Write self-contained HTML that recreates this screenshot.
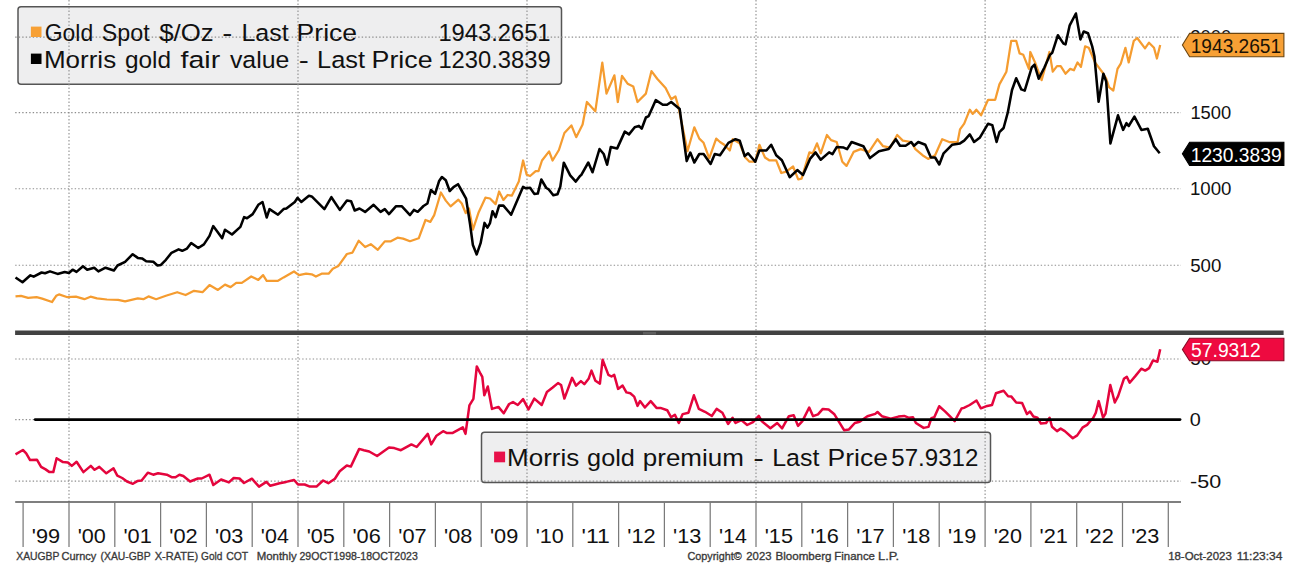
<!DOCTYPE html>
<html><head><meta charset="utf-8"><style>
html,body{margin:0;padding:0;background:#fff;width:1289px;height:569px;overflow:hidden}
svg{display:block;font-family:"Liberation Sans", sans-serif}
</style></head><body>
<svg width="1289" height="569" viewBox="0 0 1289 569">
<rect x="18" y="6.8" width="543.5" height="77.4" rx="3" ry="3" fill="#eeeeef" stroke="#555" stroke-width="1.5"/>
<rect x="481.5" y="432.2" width="509" height="50.2" rx="3" ry="3" fill="#eeeeef" stroke="#555" stroke-width="1.5"/>
<line x1="15.2" y1="37.1" x2="1181" y2="37.1" stroke="#8e8e8e" stroke-width="1.1" stroke-dasharray="1.4 2.1"/>
<line x1="15.2" y1="112.6" x2="1181" y2="112.6" stroke="#8e8e8e" stroke-width="1.1" stroke-dasharray="1.4 2.1"/>
<line x1="15.2" y1="188.8" x2="1181" y2="188.8" stroke="#8e8e8e" stroke-width="1.1" stroke-dasharray="1.4 2.1"/>
<line x1="15.2" y1="265.3" x2="1181" y2="265.3" stroke="#8e8e8e" stroke-width="1.1" stroke-dasharray="1.4 2.1"/>
<line x1="15.2" y1="359" x2="1181" y2="359" stroke="#8e8e8e" stroke-width="1.1" stroke-dasharray="1.4 2.1"/>
<line x1="15.2" y1="419.6" x2="1181" y2="419.6" stroke="#8e8e8e" stroke-width="1.1" stroke-dasharray="1.4 2.1"/>
<line x1="15.2" y1="481.1" x2="1181" y2="481.1" stroke="#8e8e8e" stroke-width="1.1" stroke-dasharray="1.4 2.1"/>
<line x1="69.0" y1="0" x2="69.0" y2="502" stroke="#8e8e8e" stroke-width="1.1" stroke-dasharray="1.4 2.1"/>
<line x1="298.0" y1="0" x2="298.0" y2="502" stroke="#8e8e8e" stroke-width="1.1" stroke-dasharray="1.4 2.1"/>
<line x1="527.0" y1="0" x2="527.0" y2="502" stroke="#8e8e8e" stroke-width="1.1" stroke-dasharray="1.4 2.1"/>
<line x1="756.0" y1="0" x2="756.0" y2="502" stroke="#8e8e8e" stroke-width="1.1" stroke-dasharray="1.4 2.1"/>
<line x1="985.1" y1="0" x2="985.1" y2="502" stroke="#8e8e8e" stroke-width="1.1" stroke-dasharray="1.4 2.1"/>
<path d="M15.5,296.4 L21.0,295.8 L28.1,297.8 L36.6,297.2 L42.2,298.6 L52.0,302.0 L56.2,295.8 L59.0,294.4 L67.5,297.2 L75.9,296.7 L84.4,299.2 L90.5,296.7 L97.0,298.4 L106.9,299.5 L118.1,299.8 L125.1,301.4 L137.8,298.4 L143.4,299.2 L148.5,296.4 L156.1,299.2 L165.9,295.8 L177.2,292.2 L185.6,295.0 L194.0,290.8 L202.5,292.2 L209.5,285.1 L217.9,289.9 L225.0,284.6 L230.6,287.1 L236.2,282.9 L241.8,282.9 L251.2,276.5 L258.3,279.9 L263.1,275.1 L266.7,280.8 L278.0,280.8 L283.6,277.4 L294.0,271.5 L299.0,275.1 L306.1,273.7 L311.7,274.3 L315.9,276.5 L321.6,273.7 L328.6,273.7 L332.8,268.7 L338.4,265.9 L346.9,254.0 L352.5,252.6 L358.7,240.8 L365.1,247.0 L370.8,244.2 L377.8,249.8 L384.8,241.4 L390.4,241.4 L397.5,237.7 L403.1,238.6 L410.0,241.2 L418.7,238.3 L425.5,220.0 L430.3,221.9 L434.2,215.1 L440.9,192.5 L445.8,200.6 L450.6,206.4 L458.4,199.7 L461.8,203.5 L465.7,213.2 L469.0,208.4 L472.9,229.6 L478.7,212.2 L485.4,197.7 L490.0,198.5 L495.6,204.1 L499.1,191.5 L503.4,199.9 L507.6,195.0 L511.8,195.7 L516.0,187.3 L518.8,181.6 L523.1,160.5 L526.6,174.6 L530.1,176.0 L535.7,171.1 L538.5,171.1 L542.0,160.5 L549.1,151.4 L552.6,160.5 L558.9,150.0 L564.4,133.0 L571.4,125.4 L576.2,137.2 L582.6,124.5 L586.9,102.0 L595.3,111.3 L602.3,62.7 L606.5,93.6 L614.4,75.3 L617.8,102.0 L622.0,75.9 L627.6,83.7 L633.3,86.6 L637.5,102.0 L645.9,93.6 L651.5,71.1 L657.2,78.7 L665.6,88.0 L671.2,99.2 L675.4,96.4 L678.3,106.2 L687.5,151.2 L694.3,127.3 L699.3,138.6 L703.6,142.8 L709.2,158.3 L716.2,138.6 L720.0,142.0 L724.2,144.8 L729.8,150.5 L732.7,139.2 L739.7,143.4 L745.3,157.5 L749.5,161.7 L755.2,161.7 L759.4,144.8 L765.0,157.5 L769.2,160.3 L776.2,160.3 L781.3,173.0 L786.1,171.6 L793.1,166.5 L798.2,179.4 L801.6,178.6 L809.4,152.4 L812.8,153.3 L817.0,143.4 L820.7,153.3 L826.9,135.0 L831.1,140.1 L836.7,142.0 L842.3,161.7 L846.5,165.9 L853.6,151.9 L860.6,149.1 L869.0,151.9 L877.5,139.2 L883.1,146.2 L890.1,147.6 L897.2,135.0 L902.8,140.6 L911.2,142.0 L915.4,149.1 L922.5,155.2 L928.1,158.9 L935.1,155.2 L942.2,139.2 L949.2,142.0 L957.6,142.0 L960.0,129.4 L964.2,123.7 L969.8,109.7 L972.7,113.9 L976.3,109.7 L981.1,115.3 L988.1,99.8 L995.2,99.8 L999.4,84.4 L1006.4,71.7 L1011.2,40.8 L1016.2,40.8 L1019.6,53.4 L1023.3,54.8 L1028.9,68.9 L1030.3,52.0 L1035.4,63.3 L1041.6,80.1 L1049.4,52.0 L1052.8,71.7 L1057.0,66.1 L1060.7,66.1 L1065.5,73.7 L1070.2,68.9 L1073.9,70.3 L1077.5,62.4 L1080.9,66.9 L1085.1,46.4 L1088.8,47.8 L1095.0,62.4 L1102.0,71.7 L1106.2,78.7 L1109.0,87.2 L1113.3,90.6 L1117.5,68.9 L1120.9,63.3 L1125.4,47.8 L1128.7,62.4 L1133.8,40.8 L1137.2,38.0 L1145.0,48.4 L1149.0,42.7 L1154.0,47.8 L1156.9,58.5 L1160.2,45.0" fill="none" stroke="#f59c30" stroke-width="2.25" stroke-linejoin="round"/>
<path d="M15.5,277.5 L22.5,282.3 L30.4,275.3 L33.7,276.7 L41.6,272.5 L45.0,273.3 L50.0,271.4 L57.6,273.9 L64.7,272.0 L68.9,273.0 L72.6,269.7 L76.5,271.9 L83.0,266.3 L87.2,269.7 L94.2,267.7 L98.4,271.4 L105.5,267.7 L113.9,270.5 L117.5,265.5 L125.1,261.8 L132.7,254.2 L137.8,257.9 L142.0,258.4 L146.2,261.2 L153.3,261.8 L157.5,265.5 L160.9,264.9 L165.9,259.8 L171.5,252.8 L178.6,249.4 L182.2,250.8 L187.0,248.6 L191.2,243.0 L198.3,248.0 L203.9,244.4 L209.5,235.9 L213.2,226.1 L222.2,238.2 L225.0,229.7 L232.0,234.5 L240.4,226.9 L244.1,217.1 L247.0,218.3 L252.7,214.1 L258.3,204.8 L262.5,202.0 L266.7,217.5 L269.5,209.1 L278.0,214.7 L283.6,209.1 L286.4,208.5 L294.8,202.0 L297.6,197.8 L301.3,202.0 L308.9,195.8 L311.7,196.4 L324.4,209.1 L331.4,197.2 L339.8,209.9 L346.9,200.6 L351.1,201.2 L354.7,210.5 L359.5,208.5 L365.1,211.9 L373.6,204.8 L380.6,211.9 L384.8,209.1 L389.0,214.1 L396.1,206.2 L401.7,206.2 L410.0,215.1 L413.9,209.9 L417.7,211.8 L423.5,206.0 L427.4,203.5 L430.9,190.0 L435.1,193.8 L439.0,181.3 L441.9,177.0 L445.8,180.3 L449.7,191.0 L453.5,187.1 L458.0,184.2 L461.3,190.0 L466.1,198.7 L470.0,223.8 L472.9,245.1 L476.7,254.4 L480.6,243.2 L484.5,222.9 L487.4,227.7 L490.0,223.1 L492.5,211.2 L495.6,217.2 L499.1,205.6 L503.4,205.6 L511.1,214.7 L523.1,186.8 L525.9,188.3 L530.1,187.7 L534.3,193.9 L537.8,193.6 L541.3,179.5 L546.3,188.0 L548.8,189.4 L553.3,195.3 L557.5,194.3 L560.3,186.6 L563.8,162.7 L570.2,175.3 L575.8,181.6 L580.0,176.0 L581.2,175.1 L588.3,162.5 L592.5,172.3 L599.5,149.0 L603.7,154.0 L607.1,164.7 L610.8,147.0 L617.2,148.4 L624.8,131.6 L629.0,134.4 L634.7,127.3 L638.9,125.9 L641.7,128.7 L645.9,117.5 L648.7,116.1 L655.8,100.1 L662.8,104.8 L667.0,104.8 L671.2,102.0 L679.7,109.1 L686.7,161.1 L690.3,152.6 L694.3,162.5 L699.3,154.0 L703.6,154.0 L710.6,163.9 L714.8,154.0 L720.0,155.2 L728.4,142.9 L735.5,139.2 L739.7,140.6 L744.7,156.1 L748.1,153.3 L755.2,161.7 L759.4,150.5 L766.4,150.5 L771.2,144.8 L776.2,155.2 L781.9,160.3 L789.7,177.2 L797.3,170.1 L803.0,174.9 L810.0,158.9 L815.6,152.4 L820.7,159.7 L829.1,152.4 L832.5,154.1 L836.7,147.1 L843.7,147.6 L847.1,149.1 L851.6,142.0 L863.4,146.2 L869.9,158.1 L878.9,151.3 L888.7,149.1 L895.8,139.2 L900.0,145.7 L905.6,145.7 L911.2,142.0 L914.0,145.7 L918.3,142.0 L925.3,144.8 L930.9,157.5 L935.1,157.5 L939.3,164.5 L943.6,153.3 L952.0,144.8 L960.0,143.4 L964.2,140.6 L969.8,134.4 L974.1,142.0 L979.7,137.8 L988.1,123.7 L992.3,125.1 L996.6,142.0 L999.4,132.2 L1003.6,128.0 L1007.8,112.5 L1012.0,90.0 L1016.2,78.2 L1021.3,89.4 L1024.7,90.6 L1031.7,67.5 L1034.5,64.7 L1038.7,78.7 L1044.4,67.5 L1050.0,54.8 L1052.2,52.9 L1057.9,35.2 L1063.5,43.6 L1065.5,44.4 L1069.7,25.3 L1075.9,13.5 L1080.4,39.4 L1083.7,31.5 L1088.0,33.2 L1092.2,46.4 L1094.4,56.2 L1098.6,101.8 L1103.4,73.7 L1106.2,81.6 L1110.4,143.4 L1118.0,115.3 L1123.1,129.9 L1126.5,123.2 L1128.7,126.0 L1134.4,116.7 L1141.4,129.9 L1147.8,128.8 L1154.0,146.2 L1159.7,153.3" fill="none" stroke="#000" stroke-width="2.55" stroke-linejoin="round"/>
<path d="M15.5,454.3 L22.9,450.0 L26.2,453.3 L30.1,460.1 L36.9,459.7 L41.1,466.9 L45.6,469.4 L49.5,472.1 L53.3,472.1 L56.6,458.2 L63.0,462.1 L67.9,462.5 L71.8,465.9 L76.6,461.7 L83.4,472.1 L90.8,465.9 L94.6,469.8 L99.3,466.9 L106.3,473.3 L113.5,468.3 L117.3,475.6 L122.2,478.0 L127.0,481.5 L132.9,483.8 L137.3,481.1 L141.6,480.5 L147.8,472.7 L153.2,474.7 L158.1,473.3 L166.8,474.7 L171.6,477.2 L175.5,477.2 L179.4,474.7 L183.3,476.0 L190.1,481.5 L197.8,478.5 L201.7,478.5 L209.5,474.7 L213.3,485.0 L221.1,479.5 L228.9,482.4 L233.7,478.0 L239.5,478.5 L244.0,483.0 L251.9,478.7 L259.0,486.6 L266.4,481.9 L270.3,485.8 L279.6,483.2 L286.1,481.9 L294.1,480.0 L298.0,484.5 L304.6,484.5 L309.9,486.6 L316.5,486.6 L323.1,480.5 L328.3,483.2 L334.9,478.7 L339.7,471.3 L346.8,465.5 L350.8,466.6 L359.2,448.9 L363.9,450.2 L369.2,451.5 L377.1,456.0 L389.0,447.6 L394.3,448.1 L400.9,450.2 L411.4,444.4 L416.7,447.0 L427.8,433.9 L431.2,444.4 L436.5,435.7 L443.1,431.2 L447.0,433.1 L452.3,433.1 L462.8,427.3 L465.5,433.9 L469.4,405.4 L473.4,398.8 L476.8,366.4 L480.5,373.7 L482.3,376.9 L484.3,395.3 L487.8,386.5 L492.0,408.9 L498.4,406.9 L503.7,413.3 L509.1,404.0 L513.0,402.1 L517.8,405.0 L523.1,399.2 L528.5,409.4 L534.3,398.6 L541.7,405.0 L546.9,392.0 L552.7,387.5 L558.0,383.1 L561.1,385.0 L564.4,398.6 L572.1,377.8 L576.0,385.6 L580.9,381.1 L584.3,384.2 L588.6,378.8 L591.5,370.6 L595.4,380.7 L599.9,383.6 L602.6,359.8 L608.4,374.9 L611.5,376.5 L614.2,374.9 L618.1,388.9 L622.6,385.6 L626.4,392.4 L630.3,393.3 L634.2,396.6 L637.5,405.9 L640.0,401.1 L644.9,407.5 L650.7,401.1 L656.5,407.9 L660.4,407.9 L667.2,410.2 L671.0,417.2 L674.9,414.7 L678.8,423.0 L682.7,414.1 L688.5,412.7 L693.9,395.3 L698.8,408.9 L705.0,411.8 L711.8,416.0 L716.6,408.9 L722.4,412.7 L728.1,424.0 L732.6,417.8 L735.5,423.0 L741.3,420.1 L747.2,425.0 L753.0,422.1 L758.8,415.9 L761.7,421.1 L770.4,428.3 L777.2,423.0 L782.1,428.3 L788.9,416.2 L793.7,415.3 L798.0,425.9 L802.4,421.1 L809.2,407.5 L813.1,416.2 L818.0,414.3 L822.8,408.9 L828.6,409.5 L834.4,414.3 L844.1,430.2 L849.0,429.4 L854.8,423.0 L859.6,421.7 L867.4,416.2 L875.2,413.9 L877.5,412.0 L881.9,416.2 L890.7,418.6 L898.4,416.6 L904.2,415.9 L909.1,417.8 L913.0,417.2 L915.9,423.0 L923.6,427.9 L928.5,426.9 L931.4,418.2 L934.3,417.2 L939.2,406.2 L945.0,411.4 L949.8,416.2 L954.7,421.1 L961.5,408.5 L963.9,407.9 L969.7,405.0 L976.5,400.5 L980.9,408.3 L987.2,405.9 L992.0,405.0 L995.9,393.3 L1003.6,390.8 L1008.1,396.2 L1011.4,396.6 L1016.2,402.5 L1022.1,403.0 L1026.9,414.1 L1030.0,411.5 L1033.4,416.5 L1037.4,417.7 L1040.9,423.6 L1046.1,423.0 L1049.6,417.7 L1052.0,426.7 L1057.0,431.1 L1060.7,428.6 L1064.8,431.1 L1072.8,438.2 L1077.2,435.4 L1082.8,427.3 L1087.1,424.9 L1092.0,419.0 L1092.9,418.5 L1095.8,412.7 L1098.7,401.1 L1103.1,417.6 L1105.5,413.7 L1110.3,385.0 L1114.8,402.5 L1118.1,396.2 L1123.9,378.8 L1126.8,376.8 L1129.7,382.7 L1135.5,375.9 L1141.3,368.7 L1145.2,370.6 L1149.1,368.1 L1153.0,360.4 L1157.4,361.7 L1160.2,349.3" fill="none" stroke="#e4053d" stroke-width="2.5" stroke-linejoin="round"/>
<line x1="35.2" y1="419.6" x2="1180" y2="419.6" stroke="#000" stroke-width="2.9" stroke-linecap="round"/>
<rect x="15.1" y="330.5" width="1268.5" height="4.5" fill="#424242"/>
<rect x="643" y="332" width="13" height="2.6" fill="#5e5e5e"/>
<line x1="15.2" y1="502" x2="1181" y2="502" stroke="#555" stroke-width="1.6"/>
<line x1="23.1" y1="502" x2="23.1" y2="547" stroke="#7a7a7a" stroke-width="1.25"/>
<line x1="69.0" y1="502" x2="69.0" y2="547" stroke="#7a7a7a" stroke-width="1.25"/>
<line x1="114.8" y1="502" x2="114.8" y2="547" stroke="#7a7a7a" stroke-width="1.25"/>
<line x1="160.6" y1="502" x2="160.6" y2="547" stroke="#7a7a7a" stroke-width="1.25"/>
<line x1="206.4" y1="502" x2="206.4" y2="547" stroke="#7a7a7a" stroke-width="1.25"/>
<line x1="252.2" y1="502" x2="252.2" y2="547" stroke="#7a7a7a" stroke-width="1.25"/>
<line x1="298.0" y1="502" x2="298.0" y2="547" stroke="#7a7a7a" stroke-width="1.25"/>
<line x1="343.8" y1="502" x2="343.8" y2="547" stroke="#7a7a7a" stroke-width="1.25"/>
<line x1="389.6" y1="502" x2="389.6" y2="547" stroke="#7a7a7a" stroke-width="1.25"/>
<line x1="435.4" y1="502" x2="435.4" y2="547" stroke="#7a7a7a" stroke-width="1.25"/>
<line x1="481.2" y1="502" x2="481.2" y2="547" stroke="#7a7a7a" stroke-width="1.25"/>
<line x1="527.0" y1="502" x2="527.0" y2="547" stroke="#7a7a7a" stroke-width="1.25"/>
<line x1="572.8" y1="502" x2="572.8" y2="547" stroke="#7a7a7a" stroke-width="1.25"/>
<line x1="618.6" y1="502" x2="618.6" y2="547" stroke="#7a7a7a" stroke-width="1.25"/>
<line x1="664.4" y1="502" x2="664.4" y2="547" stroke="#7a7a7a" stroke-width="1.25"/>
<line x1="710.2" y1="502" x2="710.2" y2="547" stroke="#7a7a7a" stroke-width="1.25"/>
<line x1="756.0" y1="502" x2="756.0" y2="547" stroke="#7a7a7a" stroke-width="1.25"/>
<line x1="801.8" y1="502" x2="801.8" y2="547" stroke="#7a7a7a" stroke-width="1.25"/>
<line x1="847.6" y1="502" x2="847.6" y2="547" stroke="#7a7a7a" stroke-width="1.25"/>
<line x1="893.4" y1="502" x2="893.4" y2="547" stroke="#7a7a7a" stroke-width="1.25"/>
<line x1="939.2" y1="502" x2="939.2" y2="547" stroke="#7a7a7a" stroke-width="1.25"/>
<line x1="985.1" y1="502" x2="985.1" y2="547" stroke="#7a7a7a" stroke-width="1.25"/>
<line x1="1030.9" y1="502" x2="1030.9" y2="547" stroke="#7a7a7a" stroke-width="1.25"/>
<line x1="1076.7" y1="502" x2="1076.7" y2="547" stroke="#7a7a7a" stroke-width="1.25"/>
<line x1="1122.5" y1="502" x2="1122.5" y2="547" stroke="#7a7a7a" stroke-width="1.25"/>
<line x1="1168.3" y1="502" x2="1168.3" y2="547" stroke="#7a7a7a" stroke-width="1.25"/>
<text x="31.85" y="542.6" font-size="20.6" fill="#111" textLength="28.33" lengthAdjust="spacingAndGlyphs">'99</text>
<text x="77.66" y="542.6" font-size="20.6" fill="#111" textLength="28.14" lengthAdjust="spacingAndGlyphs">'00</text>
<text x="123.46" y="542.6" font-size="20.6" fill="#111" textLength="28.37" lengthAdjust="spacingAndGlyphs">'01</text>
<text x="169.26" y="542.6" font-size="20.6" fill="#111" textLength="28.40" lengthAdjust="spacingAndGlyphs">'02</text>
<text x="215.07" y="542.6" font-size="20.6" fill="#111" textLength="28.25" lengthAdjust="spacingAndGlyphs">'03</text>
<text x="260.89" y="542.6" font-size="20.6" fill="#111" textLength="27.92" lengthAdjust="spacingAndGlyphs">'04</text>
<text x="306.68" y="542.6" font-size="20.6" fill="#111" textLength="28.21" lengthAdjust="spacingAndGlyphs">'05</text>
<text x="352.49" y="542.6" font-size="20.6" fill="#111" textLength="28.25" lengthAdjust="spacingAndGlyphs">'06</text>
<text x="398.29" y="542.6" font-size="20.6" fill="#111" textLength="28.40" lengthAdjust="spacingAndGlyphs">'07</text>
<text x="444.10" y="542.6" font-size="20.6" fill="#111" textLength="28.24" lengthAdjust="spacingAndGlyphs">'08</text>
<text x="489.90" y="542.6" font-size="20.6" fill="#111" textLength="28.33" lengthAdjust="spacingAndGlyphs">'09</text>
<text x="535.71" y="542.6" font-size="20.6" fill="#111" textLength="28.14" lengthAdjust="spacingAndGlyphs">'10</text>
<text x="581.51" y="542.6" font-size="20.6" fill="#111" textLength="28.37" lengthAdjust="spacingAndGlyphs">'11</text>
<text x="627.31" y="542.6" font-size="20.6" fill="#111" textLength="28.40" lengthAdjust="spacingAndGlyphs">'12</text>
<text x="673.12" y="542.6" font-size="20.6" fill="#111" textLength="28.25" lengthAdjust="spacingAndGlyphs">'13</text>
<text x="718.94" y="542.6" font-size="20.6" fill="#111" textLength="27.92" lengthAdjust="spacingAndGlyphs">'14</text>
<text x="764.73" y="542.6" font-size="20.6" fill="#111" textLength="28.21" lengthAdjust="spacingAndGlyphs">'15</text>
<text x="810.54" y="542.6" font-size="20.6" fill="#111" textLength="28.25" lengthAdjust="spacingAndGlyphs">'16</text>
<text x="856.34" y="542.6" font-size="20.6" fill="#111" textLength="28.40" lengthAdjust="spacingAndGlyphs">'17</text>
<text x="902.15" y="542.6" font-size="20.6" fill="#111" textLength="28.24" lengthAdjust="spacingAndGlyphs">'18</text>
<text x="947.95" y="542.6" font-size="20.6" fill="#111" textLength="28.33" lengthAdjust="spacingAndGlyphs">'19</text>
<text x="993.76" y="542.6" font-size="20.6" fill="#111" textLength="28.14" lengthAdjust="spacingAndGlyphs">'20</text>
<text x="1039.56" y="542.6" font-size="20.6" fill="#111" textLength="28.37" lengthAdjust="spacingAndGlyphs">'21</text>
<text x="1085.36" y="542.6" font-size="20.6" fill="#111" textLength="28.40" lengthAdjust="spacingAndGlyphs">'22</text>
<text x="1131.17" y="542.6" font-size="20.6" fill="#111" textLength="28.25" lengthAdjust="spacingAndGlyphs">'23</text>
<text x="1190.27" y="43.4" font-size="18.6" fill="#111" textLength="40.94" lengthAdjust="spacingAndGlyphs">2000</text>
<text x="1190.40" y="118.9" font-size="18.6" fill="#111" textLength="40.81" lengthAdjust="spacingAndGlyphs">1500</text>
<text x="1189.98" y="195.3" font-size="18.6" fill="#111" textLength="41.55" lengthAdjust="spacingAndGlyphs">1000</text>
<text x="1190.15" y="271.6" font-size="18.6" fill="#111" textLength="31.18" lengthAdjust="spacingAndGlyphs">500</text>
<text x="1190.24" y="365.4" font-size="18.6" fill="#111" textLength="20.99" lengthAdjust="spacingAndGlyphs">50</text>
<text x="1189.72" y="426" font-size="18.6" fill="#111" textLength="11.05" lengthAdjust="spacingAndGlyphs">0</text>
<text x="1190.04" y="487.8" font-size="18.6" fill="#111" textLength="31.10" lengthAdjust="spacingAndGlyphs">-50</text>
<polygon points="1182.4,45.0 1189.6,33.4 1283.9,33.4 1283.9,56.7 1189.6,56.7" fill="#f7a035" stroke="#6b4510" stroke-width="1.1"/>
<text x="1190.74" y="52.5" font-size="20" fill="#1a1205" textLength="90.39" lengthAdjust="spacingAndGlyphs">1943.2651</text>
<polygon points="1182.4,153.8 1189.6,142.2 1283.9,142.2 1283.9,165.5 1189.6,165.5" fill="#000" stroke="#000" stroke-width="1.1"/>
<text x="1190.74" y="161.5" font-size="20.3" fill="#fff" textLength="90.87" lengthAdjust="spacingAndGlyphs">1230.3839</text>
<polygon points="1182.4,349.5 1189.6,338.2 1283.9,338.2 1283.9,360.8 1189.6,360.8" fill="#ee0a40" stroke="#8a0a25" stroke-width="1.1"/>
<text x="1191.03" y="356.5" font-size="20" fill="#fff" textLength="69.85" lengthAdjust="spacingAndGlyphs">57.9312</text>
<rect x="30.9" y="26.6" width="10.6" height="10.4" fill="#f7a035"/>
<rect x="30.9" y="53.6" width="10.6" height="10.4" fill="#000"/>
<text x="44.75" y="40.9" font-size="24.5" fill="#111" textLength="48.43" lengthAdjust="spacingAndGlyphs">Gold</text>
<text x="101.84" y="40.9" font-size="24.5" fill="#111" textLength="47.93" lengthAdjust="spacingAndGlyphs">Spot</text>
<text x="159.22" y="40.9" font-size="24.5" fill="#111" textLength="54.36" lengthAdjust="spacingAndGlyphs">$/Oz</text>
<text x="222.25" y="40.9" font-size="24.5" fill="#111" textLength="10.09" lengthAdjust="spacingAndGlyphs">-</text>
<text x="241.45" y="40.9" font-size="24.5" fill="#111" textLength="47.23" lengthAdjust="spacingAndGlyphs">Last</text>
<text x="296.62" y="40.9" font-size="24.5" fill="#111" textLength="60.46" lengthAdjust="spacingAndGlyphs">Price</text>
<text x="438.39" y="40.9" font-size="24.5" fill="#111" textLength="112.17" lengthAdjust="spacingAndGlyphs">1943.2651</text>
<text x="43.97" y="68" font-size="24.5" fill="#111" textLength="72.17" lengthAdjust="spacingAndGlyphs">Morris</text>
<text x="124.88" y="68" font-size="24.5" fill="#111" textLength="46.10" lengthAdjust="spacingAndGlyphs">gold</text>
<text x="180.50" y="68" font-size="24.5" fill="#111" textLength="39.68" lengthAdjust="spacingAndGlyphs">fair</text>
<text x="229.92" y="68" font-size="24.5" fill="#111" textLength="59.39" lengthAdjust="spacingAndGlyphs">value</text>
<text x="298.65" y="68" font-size="24.5" fill="#111" textLength="10.09" lengthAdjust="spacingAndGlyphs">-</text>
<text x="317.12" y="68" font-size="24.5" fill="#111" textLength="47.97" lengthAdjust="spacingAndGlyphs">Last</text>
<text x="371.60" y="68" font-size="24.5" fill="#111" textLength="60.99" lengthAdjust="spacingAndGlyphs">Price</text>
<text x="438.39" y="68" font-size="24.5" fill="#111" textLength="112.34" lengthAdjust="spacingAndGlyphs">1230.3839</text>
<rect x="494.1" y="451.6" width="11" height="10.7" fill="#e8114a"/>
<text x="507.07" y="466" font-size="24.5" fill="#111" textLength="72.17" lengthAdjust="spacingAndGlyphs">Morris</text>
<text x="587.14" y="466" font-size="24.5" fill="#111" textLength="47.79" lengthAdjust="spacingAndGlyphs">gold</text>
<text x="642.83" y="466" font-size="24.5" fill="#111" textLength="100.98" lengthAdjust="spacingAndGlyphs">premium</text>
<text x="753.18" y="466" font-size="24.5" fill="#111" textLength="10.64" lengthAdjust="spacingAndGlyphs">-</text>
<text x="772.25" y="466" font-size="24.5" fill="#111" textLength="47.13" lengthAdjust="spacingAndGlyphs">Last</text>
<text x="827.53" y="466" font-size="24.5" fill="#111" textLength="60.35" lengthAdjust="spacingAndGlyphs">Price</text>
<text x="891.34" y="466" font-size="24.5" fill="#111" textLength="87.08" lengthAdjust="spacingAndGlyphs">57.9312</text>
<text x="16.27" y="559.5" font-size="11.8" fill="#3a3a3a" stroke="#3a3a3a" stroke-width="0.35" textLength="43.18" lengthAdjust="spacingAndGlyphs">XAUGBP</text>
<text x="61.54" y="559.5" font-size="11.8" fill="#3a3a3a" stroke="#3a3a3a" stroke-width="0.35" textLength="34.78" lengthAdjust="spacingAndGlyphs">Curncy</text>
<text x="100.56" y="559.5" font-size="11.8" fill="#3a3a3a" stroke="#3a3a3a" stroke-width="0.35" textLength="50.09" lengthAdjust="spacingAndGlyphs">(XAU-GBP</text>
<text x="154.76" y="559.5" font-size="11.8" fill="#3a3a3a" stroke="#3a3a3a" stroke-width="0.35" textLength="43.31" lengthAdjust="spacingAndGlyphs">X-RATE)</text>
<text x="201.09" y="559.5" font-size="11.8" fill="#3a3a3a" stroke="#3a3a3a" stroke-width="0.35" textLength="21.36" lengthAdjust="spacingAndGlyphs">Gold</text>
<text x="226.17" y="559.5" font-size="11.8" fill="#3a3a3a" stroke="#3a3a3a" stroke-width="0.35" textLength="21.97" lengthAdjust="spacingAndGlyphs">COT</text>
<text x="256.66" y="559.5" font-size="11.8" fill="#3a3a3a" stroke="#3a3a3a" stroke-width="0.35" textLength="40.06" lengthAdjust="spacingAndGlyphs">Monthly</text>
<text x="299.47" y="559.5" font-size="11.8" fill="#3a3a3a" stroke="#3a3a3a" stroke-width="0.35" textLength="118.29" lengthAdjust="spacingAndGlyphs">29OCT1998-18OCT2023</text>
<text x="687.45" y="559.6" font-size="11.8" fill="#3a3a3a" stroke="#3a3a3a" stroke-width="0.35" textLength="54.32" lengthAdjust="spacingAndGlyphs">Copyright©</text>
<text x="746.33" y="559.6" font-size="11.8" fill="#3a3a3a" stroke="#3a3a3a" stroke-width="0.35" textLength="25.17" lengthAdjust="spacingAndGlyphs">2023</text>
<text x="775.45" y="559.6" font-size="11.8" fill="#3a3a3a" stroke="#3a3a3a" stroke-width="0.35" textLength="56.10" lengthAdjust="spacingAndGlyphs">Bloomberg</text>
<text x="834.26" y="559.6" font-size="11.8" fill="#3a3a3a" stroke="#3a3a3a" stroke-width="0.35" textLength="40.75" lengthAdjust="spacingAndGlyphs">Finance</text>
<text x="878.02" y="559.6" font-size="11.8" fill="#3a3a3a" stroke="#3a3a3a" stroke-width="0.35" textLength="21.16" lengthAdjust="spacingAndGlyphs">L.P.</text>
<text x="1168.13" y="559.7" font-size="11.8" fill="#3a3a3a" stroke="#3a3a3a" stroke-width="0.35" textLength="63.68" lengthAdjust="spacingAndGlyphs">18-Oct-2023</text>
<text x="1236.70" y="559.7" font-size="11.8" fill="#3a3a3a" stroke="#3a3a3a" stroke-width="0.35" textLength="45.74" lengthAdjust="spacingAndGlyphs">11:23:34</text>
</svg>
</body></html>
